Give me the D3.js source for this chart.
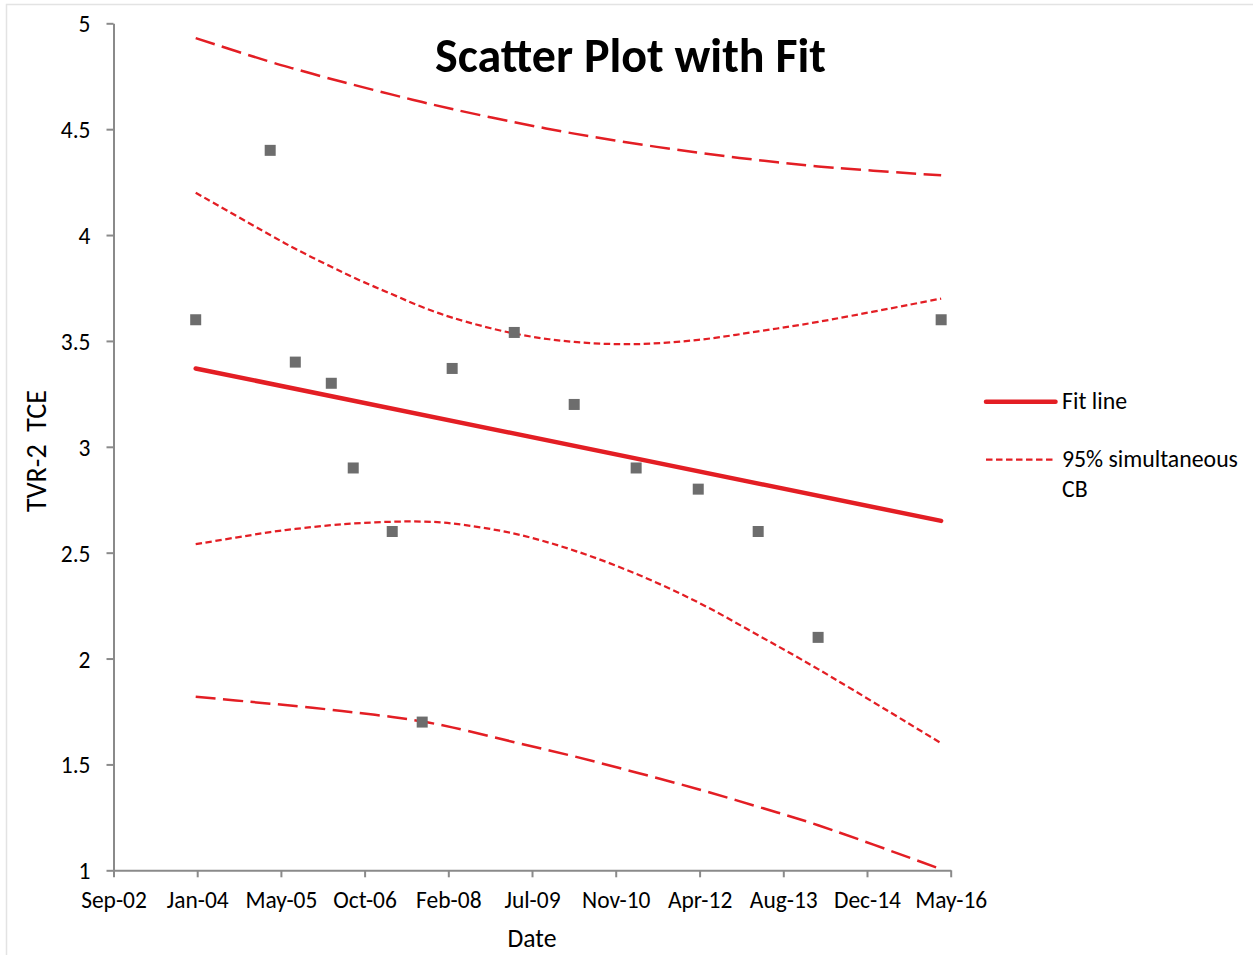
<!DOCTYPE html>
<html><head><meta charset="utf-8">
<script src="https://cdn.jsdelivr.net/npm/d3@7"></script>
<style>body{margin:0;background:#fff} svg{display:block}</style>
</head><body><svg id="c" width="1253" height="955"></svg>
<script>
// ---- data ----
const dates = ["2004-01-05","2005-03-25","2005-08-22","2006-03-25","2006-08-03","2007-03-24","2007-09-19","2008-03-16","2009-03-22","2010-03-15","2011-03-20","2012-03-25","2013-03-18","2014-03-11","2016-03-15"];
const values = [3.60,4.40,3.40,3.30,2.90,2.60,1.70,3.37,3.54,3.20,2.90,2.80,2.60,2.10,3.60];
const fitDates = ["2004-01-05","2016-03-15"];
const fitValues = [3.37,2.65];
const innerUpper = [4.20,4.00,3.935,3.85,3.80,3.72,3.66,3.61,3.535,3.495,3.485,3.505,3.545,3.59,3.70];
const innerLower = [2.54,2.597,2.612,2.63,2.638,2.646,2.647,2.638,2.59,2.51,2.40,2.265,2.11,1.95,1.60];
const outerUpper = [4.93,4.818,4.784,4.737,4.710,4.663,4.628,4.595,4.533,4.479,4.431,4.389,4.354,4.324,4.282];
const outerLower = [1.82,1.787,1.776,1.758,1.746,1.724,1.703,1.675,1.605,1.538,1.462,1.383,1.300,1.213,1.005];
const xDomain = ["2002-09-01","2016-05-11"];
const xTickDates = ["2002-09-01","2004-01-14","2005-05-28","2006-10-10","2008-02-22","2009-07-06","2010-11-18","2012-04-02","2013-08-15","2014-12-28","2016-05-11"];
const yTicks = [1,1.5,2,2.5,3,3.5,4,4.5,5];
const title = "Scatter Plot with Fit";
const xTitle = "Date";
const yTitle = "TVR-2  TCE";
const legendLabels = ["Fit line","95% simultaneous","CB"];

// ---- setup ----
const FONT = "Carlito, Lato, 'Open Sans', sans-serif";
const RED = "#e31e24";
const AX = "#8a8a8a";
const parse = d3.utcParse("%Y-%m-%d");
const svg = d3.select("#c");

const x = d3.scaleUtc().domain(xDomain.map(parse)).range([113.5, 950.7]);
const y = d3.scaleLinear().domain([1,5]).range([870.3, 23.3]);

function fitW(sel, target){
  const w = sel.node().getComputedTextLength();
  const fs = parseFloat(sel.attr("font-size"));
  return fs*target/w;
}

// border
svg.append("rect").attr("x",6.5).attr("y",4.5).attr("width",1300).attr("height",1000)
  .attr("fill","#fff").attr("stroke","#e3e3e3").attr("stroke-width",1.5);

// axes
const xAxis = svg.append("g").attr("transform",`translate(0,${y(1)})`)
  .call(d3.axisBottom(x).tickValues(xTickDates.map(parse)).tickFormat(d3.utcFormat("%b-%y")).tickSize(7).tickSizeOuter(0));
const yAxis = svg.append("g").attr("transform",`translate(${x(parse(xDomain[0]))},0)`)
  .call(d3.axisLeft(y).tickValues(yTicks).tickFormat(d=>String(d)).tickSize(7).tickSizeOuter(0));
[xAxis,yAxis].forEach(g=>{
  g.select(".domain").attr("stroke",AX).attr("stroke-width",2);
  g.selectAll(".tick line").attr("stroke",AX).attr("stroke-width",2);
  g.selectAll("text").attr("font-family",FONT).attr("fill","#000").attr("font-size",22);
});
const ref = xAxis.selectAll(".tick text").filter(function(){return this.textContent==="May-05";});
const tickFS = fitW(ref, 72);
xAxis.selectAll(".tick text").attr("font-size",tickFS).attr("y",38).attr("dy",0);
yAxis.selectAll(".tick text").attr("font-size",tickFS).attr("x",-23).attr("dy","0.36em");

// bands
const pts = arr => arr.map((v,i)=>[parse(dates[i]),v]);
const line = d3.line().x(d=>x(d[0])).y(d=>y(d[1])).curve(d3.curveCatmullRom.alpha(0.5));
const g = svg.append("g");
[[outerUpper,"20,7.5",2.5],[outerLower,"20,7.5",2.5],[innerUpper,"6.5,3.5",2.25],[innerLower,"6.5,3.5",2.25]].forEach(([arr,dash,w])=>{
  g.append("path").attr("d",line(pts(arr))).attr("fill","none").attr("stroke",RED)
    .attr("stroke-width",w).attr("stroke-dasharray",dash);
});
// fit line
g.append("path").attr("d",d3.line().x(d=>x(d[0])).y(d=>y(d[1]))(fitDates.map((d,i)=>[parse(d),fitValues[i]])))
  .attr("fill","none").attr("stroke",RED).attr("stroke-width",4.5).attr("stroke-linecap","round");
// points
g.selectAll("rect.pt").data(dates.map((d,i)=>[parse(d),values[i]])).join("rect").attr("class","pt")
  .attr("x",d=>x(d[0])-5.5).attr("y",d=>y(d[1])-5.5).attr("width",11).attr("height",11).attr("fill","#6d6d6d");

// title
const t = svg.append("text").text(title).attr("x",630.5).attr("y",71.7).attr("text-anchor","middle")
  .attr("font-family",FONT).attr("font-weight","bold").attr("font-size",44).attr("fill","#000");
t.attr("font-size",fitW(t,391));
// axis titles
const xt = svg.append("text").text(xTitle).attr("x",532).attr("y",946.5).attr("text-anchor","middle")
  .attr("font-family",FONT).attr("font-size",22).attr("fill","#000");
xt.attr("font-size",fitW(xt,49));
const yt = svg.append("text").text(yTitle).attr("transform","translate(46,451) rotate(-90)").attr("text-anchor","middle")
  .attr("font-family",FONT).attr("font-size",22).attr("fill","#000").attr("xml:space","preserve").style("white-space","pre");
yt.attr("font-size",fitW(yt,122));

// legend
const lg = svg.append("g");
lg.append("line").attr("x1",986).attr("x2",1055.5).attr("y1",401.7).attr("y2",401.7)
  .attr("stroke",RED).attr("stroke-width",4.5).attr("stroke-linecap","round");
lg.append("line").attr("x1",986).attr("x2",1055.5).attr("y1",459.5).attr("y2",459.5)
  .attr("stroke",RED).attr("stroke-width",2.25).attr("stroke-dasharray","6.5,3.5");
const l1 = lg.append("text").text(legendLabels[0]).attr("x",1062).attr("y",409.3)
  .attr("font-family",FONT).attr("font-size",20).attr("fill","#000");
const l2 = lg.append("text").text(legendLabels[1]).attr("x",1062).attr("y",466.7)
  .attr("font-family",FONT).attr("font-size",20).attr("fill","#000");
const lfs = fitW(l2,176);
l2.attr("font-size",lfs);
l1.attr("font-size",lfs);
lg.append("text").text(legendLabels[2]).attr("x",1062).attr("y",497.3)
  .attr("font-family",FONT).attr("font-size",lfs).attr("fill","#000");
</script></body></html>
